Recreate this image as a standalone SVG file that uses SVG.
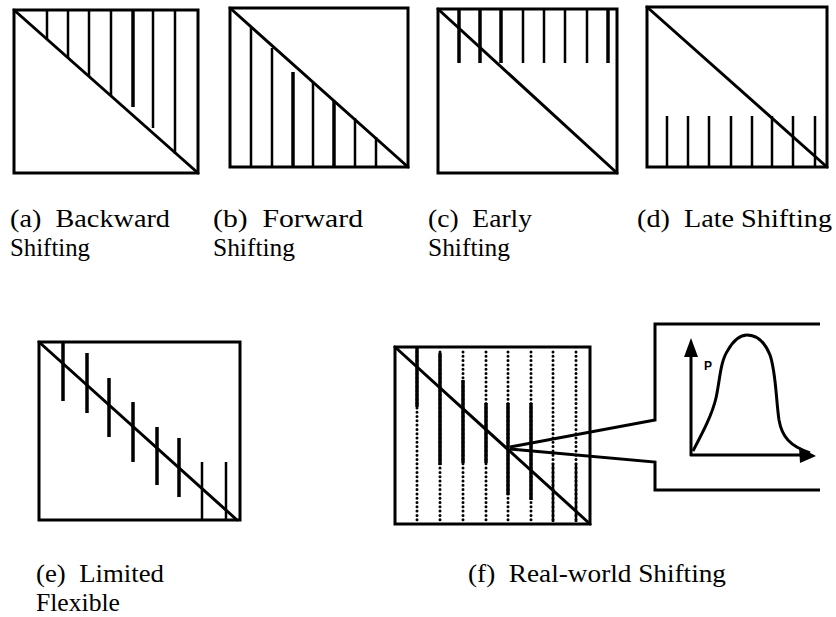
<svg xmlns="http://www.w3.org/2000/svg" width="836" height="617" viewBox="0 0 836 617">
<style>
.box{fill:none;stroke:#000;stroke-width:3}
.diag{stroke:#000;stroke-width:3;stroke-linecap:round}
.v{stroke:#000;stroke-width:2.5}
.vt{stroke:#000;stroke-width:3.5}
.dot{stroke:#000;stroke-width:3;stroke-dasharray:0 4.3;stroke-linecap:round}
.con{fill:none;stroke:#000;stroke-width:3;stroke-linejoin:miter}
.lbl{font-family:"Liberation Serif","Times New Roman",serif;font-size:25.5px;fill:#000}
</style>
<rect width="836" height="617" fill="#fff"/>

<g id="panel-a">
<rect class="box" x="14" y="10" width="184" height="163"/>
<line class="diag" x1="14" y1="10" x2="198" y2="173"/>
<line class="v" x1="47" y1="10" x2="47" y2="39"/>
<line class="v" x1="68" y1="10" x2="68" y2="58"/>
<line class="v" x1="89" y1="10" x2="89" y2="76"/>
<line class="v" x1="111" y1="10" x2="111" y2="96"/>
<line class="vt" x1="133" y1="10" x2="133" y2="107"/>
<line class="v" x1="153" y1="10" x2="153" y2="128"/>
<line class="v" x1="175" y1="10" x2="175" y2="154"/>
<text class="lbl" x="10" y="227" textLength="160" lengthAdjust="spacingAndGlyphs">(a)&#160; Backward</text>
<text class="lbl" x="10" y="256" textLength="80" lengthAdjust="spacingAndGlyphs">Shifting</text>
</g>

<g id="panel-b">
<rect class="box" x="230" y="8" width="178" height="159"/>
<line class="diag" x1="230" y1="8" x2="408" y2="167"/>
<line class="v" x1="251" y1="167" x2="251" y2="27"/>
<line class="v" x1="272" y1="167" x2="272" y2="48"/>
<line class="vt" x1="293" y1="167" x2="293" y2="72"/>
<line class="v" x1="313" y1="167" x2="313" y2="82"/>
<line class="vt" x1="334" y1="167" x2="334" y2="101"/>
<line class="v" x1="355" y1="167" x2="355" y2="118"/>
<line class="v" x1="376" y1="167" x2="376" y2="137"/>
<text class="lbl" x="213" y="227" textLength="150" lengthAdjust="spacingAndGlyphs">(b)&#160; Forward</text>
<text class="lbl" x="213" y="256" textLength="82" lengthAdjust="spacingAndGlyphs">Shifting</text>
</g>

<g id="panel-c">
<rect class="box" x="438" y="9" width="179" height="164"/>
<line class="diag" x1="438" y1="9" x2="617" y2="173"/>
<line class="vt" x1="459" y1="9" x2="459" y2="63"/>
<line class="vt" x1="480" y1="9" x2="480" y2="63"/>
<line class="vt" x1="501" y1="9" x2="501" y2="63"/>
<line class="v" x1="523" y1="9" x2="523" y2="63"/>
<line class="v" x1="544" y1="9" x2="544" y2="63"/>
<line class="v" x1="565" y1="9" x2="565" y2="63"/>
<line class="v" x1="587" y1="9" x2="587" y2="63"/>
<line class="vt" x1="608" y1="9" x2="608" y2="63"/>
<text class="lbl" x="428" y="227" textLength="104" lengthAdjust="spacingAndGlyphs">(c)&#160; Early</text>
<text class="lbl" x="428" y="256" textLength="82" lengthAdjust="spacingAndGlyphs">Shifting</text>
</g>

<g id="panel-d">
<rect class="box" x="647" y="7" width="180" height="160"/>
<line class="diag" x1="647" y1="7" x2="827" y2="167"/>
<line class="v" x1="667" y1="116" x2="667" y2="167"/>
<line class="v" x1="688" y1="116" x2="688" y2="167"/>
<line class="v" x1="709" y1="116" x2="709" y2="167"/>
<line class="v" x1="731" y1="116" x2="731" y2="167"/>
<line class="v" x1="752" y1="116" x2="752" y2="167"/>
<line class="v" x1="772" y1="116" x2="772" y2="167"/>
<line class="v" x1="793" y1="116" x2="793" y2="167"/>
<line class="v" x1="815" y1="116" x2="815" y2="167"/>
<text class="lbl" x="637" y="227" textLength="195" lengthAdjust="spacingAndGlyphs">(d)&#160; Late Shifting</text>
</g>

<g id="panel-e">
<rect class="box" x="39" y="342" width="201" height="178"/>
<line class="diag" x1="39" y1="342" x2="237" y2="520"/>
<line class="vt" x1="63" y1="342" x2="63" y2="401"/>
<line class="vt" x1="87" y1="353" x2="87" y2="413"/>
<line class="vt" x1="109" y1="378" x2="109" y2="437"/>
<line class="vt" x1="133" y1="402" x2="133" y2="462"/>
<line class="vt" x1="157" y1="427" x2="157" y2="485"/>
<line class="vt" x1="179" y1="438" x2="179" y2="497"/>
<line class="v" x1="202" y1="462" x2="202" y2="520"/>
<line class="v" x1="226" y1="462" x2="226" y2="520"/>
<text class="lbl" x="36" y="582" textLength="128" lengthAdjust="spacingAndGlyphs">(e)&#160; Limited</text>
<text class="lbl" x="36" y="611" textLength="84" lengthAdjust="spacingAndGlyphs">Flexible</text>
</g>

<g id="panel-f">
<rect class="box" x="395" y="347" width="195" height="177"/>
<line class="dot" x1="417" y1="352" x2="417" y2="521"/>
<line class="dot" x1="440" y1="352" x2="440" y2="521"/>
<line class="dot" x1="463" y1="352" x2="463" y2="521"/>
<line class="dot" x1="486" y1="352" x2="486" y2="521"/>
<line class="dot" x1="508" y1="352" x2="508" y2="521"/>
<line class="dot" x1="531" y1="352" x2="531" y2="521"/>
<line class="dot" x1="553" y1="352" x2="553" y2="521"/>
<line class="dot" x1="576" y1="352" x2="576" y2="521"/>
<line class="vt" x1="417" y1="348" x2="417" y2="407"/>
<line class="vt" x1="440" y1="353" x2="440" y2="465"/>
<line class="vt" x1="463" y1="380" x2="463" y2="463"/>
<line class="vt" x1="486" y1="403" x2="486" y2="463"/>
<line class="vt" x1="508" y1="403" x2="508" y2="495"/>
<line class="vt" x1="531" y1="403" x2="531" y2="500"/>
<line class="v" x1="553" y1="463" x2="553" y2="522"/>
<line class="v" x1="576" y1="463" x2="576" y2="522"/>
<line class="diag" x1="395" y1="347" x2="590" y2="524"/>
<text class="lbl" x="468" y="582" textLength="258" lengthAdjust="spacingAndGlyphs">(f)&#160; Real-world Shifting</text>
</g>

<g id="inset-graph">
<line stroke="#000" stroke-width="3" x1="691" y1="456" x2="691" y2="352"/>
<polygon points="691,338 684,357 698,357" fill="#000"/>
<line stroke="#000" stroke-width="3" x1="690" y1="455" x2="802" y2="455"/>
<polygon points="816,456 799,447 800,463" fill="#000"/>
<text x="704" y="370" font-family="'Liberation Sans',Arial,sans-serif" font-size="12" font-weight="bold">P</text>
<path d="M693,451 C703,432 712,415 716,398 C720,380 720,362 728,350 C735,338 741,335 747,335 C756,335 764,340 770,355 C776,372 776,400 779,420 C782,437 790,446 810,453" fill="none" stroke="#000" stroke-width="3"/>
</g>

<g id="connectors">
<polyline class="con" points="510,447 655,420 655,324 820,324"/>
<polyline class="con" points="510,449 655,462 655,490 820,490"/>
</g>
</svg>
